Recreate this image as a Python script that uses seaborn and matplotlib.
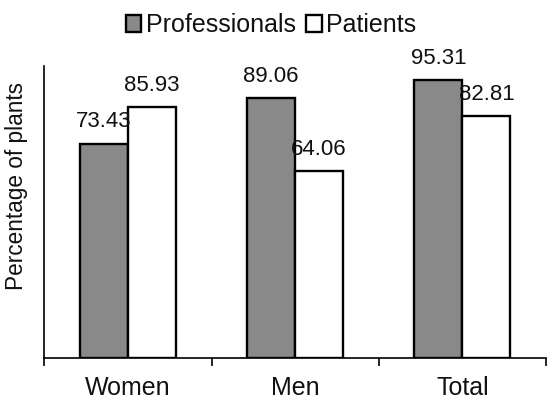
import matplotlib
matplotlib.use("Agg")
import matplotlib.pyplot as plt
import seaborn as sns
import pandas as pd
import numpy as np

groups = ["Women", "Men", "Total"]
professionals = [73.43, 89.06, 95.31]
patients = [85.93, 64.06, 82.81]
series_names = ["Professionals", "Patients"]

df = pd.DataFrame({
    "group": groups * 2,
    "value": professionals + patients,
    "series": [series_names[0]] * 3 + [series_names[1]] * 3,
})

sns.set_theme(style="white")
plt.rcParams["font.family"] = ["Liberation Sans", "DejaVu Sans"]

fig = plt.figure(figsize=(5.48, 3.99), dpi=100)
ax = fig.add_axes([44.3 / 548, 41 / 399, (546 - 44.3) / 548, 292 / 399])

sns.barplot(data=df, x="group", y="value", hue="series", order=groups,
            hue_order=series_names, palette=["#898989", "#ffffff"],
            width=0.574, edgecolor="black", linewidth=1.7, saturation=1,
            ax=ax, legend=True)

for cont in ax.containers:
    ax.bar_label(cont, fmt="%.2f", padding=8, fontsize=16, color="#111111")

ax.set_xlim(-0.5, 2.5)
ax.set_ylim(0, 100)
ax.set_yticks([])
ax.set_xlabel("")
ax.set_ylabel("")
fig.text(17 / 548, 1 - 186 / 399, "Percentage of plants", rotation=90,
         ha="center", va="center", fontsize=16.3, color="#111111")

# ticks on category boundaries, labels centered under each group
ax.set_xticks(np.arange(-0.5, 3.0, 1.0))
ax.set_xticklabels([])
ax.set_xticks(range(len(groups)), minor=True)
ax.set_xticklabels(groups, minor=True, fontsize=18, color="#111111")
ax.tick_params(axis="x", which="major", length=6, width=1.2, color="black", bottom=True)
ax.tick_params(axis="x", which="minor", length=0, pad=13)

for side in ["top", "right"]:
    ax.spines[side].set_visible(False)
for side in ["left", "bottom"]:
    ax.spines[side].set_color("black")
    ax.spines[side].set_linewidth(1.2)

handles, labels = ax.get_legend_handles_labels()
ax.get_legend().remove()
fig.legend(handles, labels, loc="center", bbox_to_anchor=(0.494, 0.937), ncol=2,
           frameon=False, fontsize=18, handlelength=0.63, handleheight=0.63,
           handletextpad=0.17, columnspacing=0.41, borderaxespad=0,
           labelcolor="#111111")

fig.savefig("out.png", dpi=100, facecolor="white")
